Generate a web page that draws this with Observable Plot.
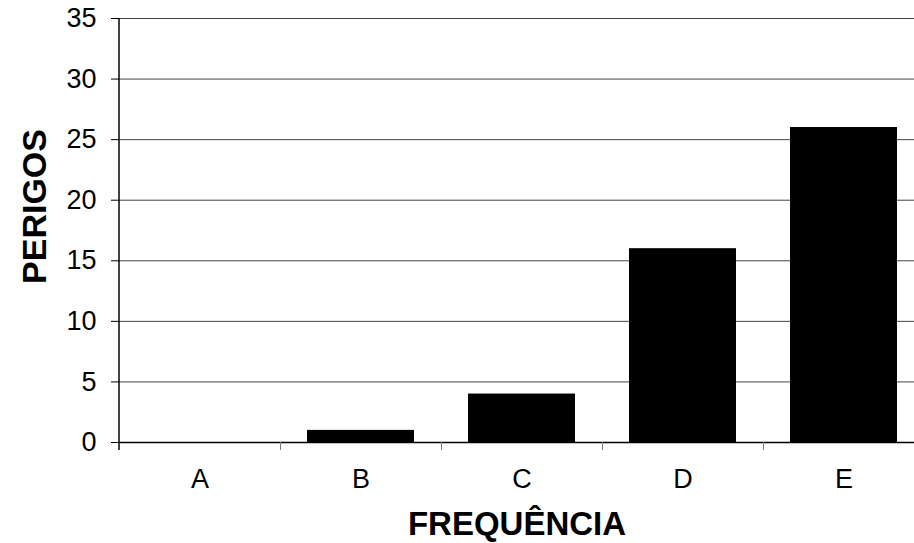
<!DOCTYPE html>
<html>
<head>
<meta charset="utf-8">
<script src="https://cdn.jsdelivr.net/npm/d3@7"></script>
<script src="https://cdn.jsdelivr.net/npm/@observablehq/plot@0.6"></script>
<style>
  html, body { margin: 0; padding: 0; background: #fff; overflow: hidden; }
  svg { overflow: visible; }
</style>
</head>
<body>
<div id="chart"></div>
<script>
const categories = ["A", "B", "C", "D", "E"];
const values = [0, 1, 4, 16, 26];
const yTicks = [0, 5, 10, 15, 20, 25, 30, 35];
const xTitle = "FREQUÊNCIA";
const yTitle = "PERIGOS";

const data = categories.map((c, i) => ({cat: c, val: values[i]}));
const step = (924 - 119) / categories.length;

const chart = Plot.plot({
  width: 914,
  height: 543,
  marginLeft: 119,
  marginRight: 0,
  marginTop: 18,
  marginBottom: 101,
  style: {fontFamily: "'Liberation Sans', Arial, sans-serif", fontSize: "27px", color: "#000", background: "#fff"},
  x: {domain: categories, range: [119, 924], paddingInner: 0.335, paddingOuter: 0.1675, align: 0.5},
  y: {domain: [0, 35], range: [442, 18]},
  marks: [
    Plot.gridY(yTicks, {stroke: "#444", strokeOpacity: 1, strokeWidth: 1}),
    Plot.barY(data, {x: "cat", y: "val", fill: "#000"}),
    Plot.ruleY([0], {stroke: "#000", strokeWidth: 1.5}),
    Plot.axisY(yTicks, {tickSize: 8, tickPadding: 15, label: null, fontSize: 27, stroke: "#000"}),
    Plot.axisX(categories, {tickSize: 0, tickPadding: 26, label: null, fontSize: 27}),
    Plot.axisX(categories.slice(0, -1), {tickSize: 8, text: null, label: null, dx: step / 2, stroke: "#777"}),
    Plot.text([yTitle], {frameAnchor: "left", textAnchor: "middle", lineAnchor: "middle", dx: -84, dy: -24, rotate: -90, fontSize: 34, fontWeight: "bold", text: d => d}),
    Plot.text([xTitle], {frameAnchor: "bottom", textAnchor: "middle", lineAnchor: "middle", dy: 82, fontSize: 33, fontWeight: "bold", text: d => d})
  ]
});

const svg = d3.select(chart);
svg.append("line")
  .attr("x1", 119).attr("x2", 119)
  .attr("y1", 18).attr("y2", 450)
  .attr("stroke", "#000").attr("stroke-width", 1.5);

document.getElementById("chart").appendChild(chart);
</script>
</body>
</html>
